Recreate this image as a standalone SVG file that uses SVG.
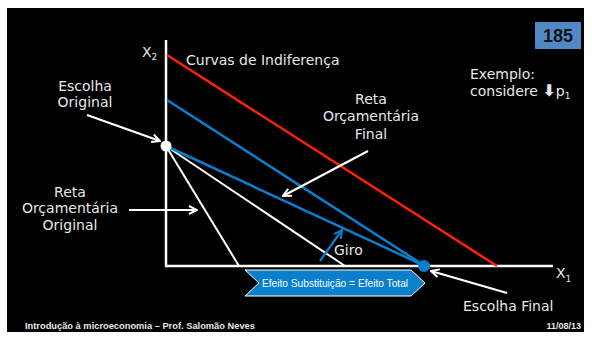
<svg xmlns="http://www.w3.org/2000/svg" width="592" height="338" viewBox="0 0 592 338">
<defs>
<style>
.t{font-family:"DejaVu Sans","Liberation Sans",sans-serif;font-size:14px;fill:#e8e8e8}
.ax{stroke:#fff;stroke-width:2.5;fill:none}
.wl{stroke:#fff;stroke-width:2;fill:none}
.bl{stroke:#0a7fcc;stroke-width:2.5;fill:none}
.arw{stroke:#fff;stroke-width:2.2;fill:none;marker-end:url(#ah)}
</style>
<marker id="ah" viewBox="0 0 10 10" refX="9" refY="5" markerWidth="10" markerHeight="10" markerUnits="userSpaceOnUse" orient="auto">
<path d="M1,1 L9,5 L1,9" fill="none" stroke="#fff" stroke-width="2"/>
</marker>
<marker id="ahb" viewBox="0 0 10 10" refX="9" refY="5" markerWidth="10" markerHeight="10" markerUnits="userSpaceOnUse" orient="auto">
<path d="M1,1 L9,5 L1,9" fill="none" stroke="#0a7fcc" stroke-width="2"/>
</marker>
</defs>
<rect width="592" height="338" fill="#fff"/>
<rect x="7" y="8" width="577" height="324" fill="#000"/>

<g id="slide-number">
<rect x="535" y="22" width="46" height="27" fill="#5288c6"/>
<text x="558" y="42" text-anchor="middle" style="font-family:'Liberation Sans',sans-serif;font-size:18px;font-weight:bold;fill:#151515">185</text>
</g>

<g id="axes">
<line class="ax" x1="166" y1="40" x2="166" y2="266"/>
<line class="ax" x1="165" y1="266" x2="553" y2="266"/>
<text class="t" x="142" y="57">X<tspan font-size="9" dy="3">2</tspan></text>
<text class="t" x="556" y="278">X<tspan font-size="9" dy="4">1</tspan></text>
</g>

<g id="indifference-curve">
<line x1="167" y1="55" x2="497" y2="266" stroke="#ff2200" stroke-width="2.5"/>
<text class="t" x="186" y="65">Curvas de Indiferença</text>
</g>

<g id="budget-original">
<line class="wl" x1="166" y1="146" x2="239" y2="266"/>
<line class="wl" x1="166" y1="146" x2="345" y2="266"/>
</g>

<g id="budget-final">
<line class="bl" x1="167" y1="100" x2="425" y2="266"/>
<line class="bl" x1="166" y1="146" x2="425" y2="266"/>
</g>

<g id="original-choice">
<circle cx="166" cy="146" r="5.5" fill="#fff"/>
<text class="t" x="85" y="91" text-anchor="middle">Escolha</text>
<text class="t" x="85" y="107" text-anchor="middle">Original</text>
</g>

<g id="final-choice">
<circle cx="424" cy="266" r="6" fill="#0a7fcc"/>
<text class="t" x="463" y="311">Escolha Final</text>
</g>

<g id="label-reta-original">
<text class="t" x="70" y="197" text-anchor="middle">Reta</text>
<text class="t" x="70" y="213" text-anchor="middle">Orçamentária</text>
<text class="t" x="70" y="230" text-anchor="middle">Original</text>
</g>

<g id="label-reta-final">
<text class="t" x="371" y="104" text-anchor="middle">Reta</text>
<text class="t" x="371" y="121" text-anchor="middle">Orçamentária</text>
<text class="t" x="371" y="139" text-anchor="middle">Final</text>
</g>

<g id="example">
<text class="t" x="470" y="79">Exemplo:</text>
<text class="t" x="470" y="96">considere <tspan style="font-weight:bold;font-size:16px">⬇</tspan>p<tspan font-size="9" dy="3">1</tspan></text>
</g>

<g id="giro">
<text class="t" x="334" y="255">Giro</text>
</g>

<g id="effect-box">
<path d="M245,270 L411,270 L425,283 L411,296 L245,296 L259,283 Z" fill="#0a7fcc" stroke="#fff" stroke-width="1"/>
<text x="335" y="286.5" text-anchor="middle" style="font-family:'Liberation Sans',sans-serif;font-size:10.2px;fill:#fff">Efeito Substituição = Efeito Total</text>
</g>

<g id="connectors">
<line class="arw" x1="87" y1="115" x2="160" y2="141"/>
<line class="arw" x1="129" y1="210" x2="197" y2="210"/>
<line class="arw" x1="368" y1="151" x2="283" y2="196"/>
<line class="arw" x1="507" y1="293" x2="431" y2="271"/>
<line x1="320" y1="261" x2="342" y2="230" stroke="#0a7fcc" stroke-width="2.2" marker-end="url(#ahb)"/>
</g>

<g id="footer">
<text x="25" y="329" style="font-family:'Liberation Sans',sans-serif;font-size:9.3px;font-weight:bold;fill:#e8e8e8">Introdução à microeconomia – Prof. Salomão Neves</text>
<text x="581" y="329" text-anchor="end" style="font-family:'Liberation Sans',sans-serif;font-size:9px;font-weight:bold;fill:#e8e8e8">11/08/13</text>
</g>
</svg>
